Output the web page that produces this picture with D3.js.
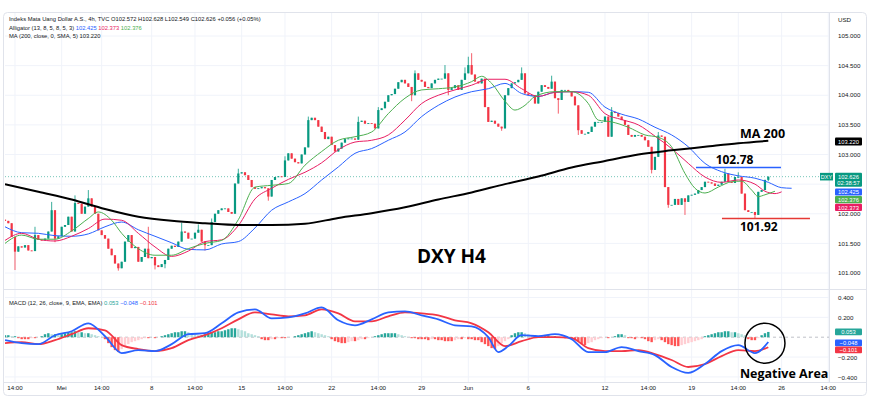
<!DOCTYPE html>
<html>
<head>
<meta charset="utf-8">
<script src="https://cdn.jsdelivr.net/npm/d3@7"></script>
<style>
  body { margin: 0; background: #fff; }
  text { font-family: "Liberation Sans", Arial, sans-serif; }
  .note { font-family: "Open Sans", "Liberation Sans", sans-serif; font-weight: 700; fill: #000; }
</style>
</head>
<body>
<div class="panel"></div>
<script>
// Data (DXY, 4h bars)

const firstOpen = 101.90;
const closes = [
  101.88,101.84,101.61,101.36,101.45,101.43,101.47,101.38,101.37,101.64,
  101.56,101.55,101.58,101.70,102.06,101.58,101.62,101.78,101.81,101.95,
  101.70,102.18,102.17,102.00,102.12,102.26,102.12,102.00,101.72,101.64,
  101.58,101.41,101.30,101.16,101.08,101.19,101.53,101.64,101.42,101.44,
  101.19,101.27,101.41,101.25,101.27,101.13,101.10,101.15,101.22,101.41,
  101.46,101.44,101.53,101.70,101.68,101.58,101.58,101.68,101.73,101.53,
  101.47,101.47,101.86,102.00,102.06,102.09,102.09,102.03,102.00,102.51,
  102.68,102.70,102.65,102.57,102.45,102.42,102.43,102.45,102.43,102.29,
  102.57,102.62,102.63,102.62,102.90,103.02,102.93,102.87,102.85,103.00,
  103.12,103.58,103.62,103.58,103.47,103.38,103.26,103.30,103.16,103.05,
  103.10,103.20,103.26,103.27,103.27,103.25,103.55,103.57,103.52,103.53,
  103.52,103.44,103.75,103.78,103.89,104.00,104.02,104.11,104.22,104.26,
  104.20,104.14,104.00,104.37,104.26,104.23,104.14,104.12,104.20,104.26,
  104.28,104.28,104.37,104.09,104.12,104.17,104.09,104.26,104.37,104.51,
  104.35,104.23,104.20,104.28,103.80,103.55,103.57,103.52,103.47,103.44,
  104.00,104.12,104.20,104.22,104.26,104.37,104.03,104.00,104.00,103.86,
  104.06,104.17,104.14,104.11,104.23,103.95,103.92,104.09,104.09,104.06,
  103.98,103.83,103.41,103.35,103.35,103.38,103.47,103.55,103.55,103.55,
  103.64,103.30,103.72,103.70,103.64,103.58,103.50,103.33,103.30,103.33,
  103.33,103.30,103.24,103.13,102.74,102.96,103.32,103.30,102.45,102.15,
  102.15,102.25,102.15,102.26,102.20,102.31,102.32,102.34,102.40,102.45,
  102.54,102.53,102.51,102.47,102.49,102.54,102.68,102.54,102.52,102.62,
  102.62,102.34,102.06,102.03,102.03,101.98,102.37,102.40,102.572,102.626
];

// notable wicks [bar, price]
const wickHighs = [[9,101.78],[14,102.20],[21,102.31],[25,102.40],[43,101.78],[53,101.85],[58,101.82],
  [62,101.92],[70,102.76],[84,102.97],[91,103.64],[106,103.64],[112,103.80],[123,104.42],[132,104.51],
  [138,104.47],[139,104.65],[140,104.71],[155,104.47],[164,104.33],[182,103.80],[196,103.38],
  [216,102.76],[220,102.70],[229,102.628]];
const wickLows = [[3,101.05],[15,101.52],[34,101.04],[45,101.06],[48,101.08],[60,101.38],[79,102.22],
  [122,103.90],[133,104.00],[149,103.40],[166,103.69],[172,103.33],[194,102.68],[199,102.10],
  [204,101.98],[225,101.92],[229,102.549]];

const ma200 = [[0,102.50],[10,102.37],[20,102.24],[30,102.08],[40,101.95],[50,101.88],[60,101.84],
  [70,101.81],[80,101.81],[90,101.83],[100,101.93],[110,102.01],[120,102.11],[130,102.24],[140,102.36],
  [150,102.50],[160,102.63],[170,102.78],[180,102.89],[190,103.00],[200,103.07],[210,103.13],
  [220,103.19],[229,103.23]];

const jaw = [[0,101.78],[5,101.68],[10,101.67],[15,101.63],[20,101.62],[25,101.66],[30,101.78],[35,101.86],
  [40,101.73],[45,101.62],[50,101.51],[55,101.40],[60,101.39],[65,101.49],[70,101.53],[75,101.76],
  [80,102.06],[85,102.20],[90,102.34],[95,102.57],[100,102.79],[105,103.02],[110,103.10],[115,103.24],
  [120,103.38],[125,103.64],[130,103.83],[135,103.97],[140,104.06],[145,104.11],[150,104.20],[155,104.03],
  [160,103.98],[165,104.05],[170,104.06],[175,104.05],[180,103.80],[185,103.68],[190,103.60],[195,103.46],
  [200,103.33],[205,103.13],[210,102.85],[215,102.71],[220,102.64],[225,102.60],[229,102.53],[233,102.44],
  [236,102.43]];

const teeth = [[0,101.55],[5,101.67],[10,101.57],[15,101.54],[20,101.62],[25,101.75],[30,101.91],[35,101.89],
  [40,101.67],[45,101.44],[50,101.28],[55,101.37],[60,101.53],[65,101.56],[70,101.80],[75,102.25],
  [80,102.43],[85,102.58],[90,102.70],[95,102.86],[100,103.08],[105,103.21],[110,103.24],[115,103.33],
  [120,103.58],[125,103.86],[130,104.00],[135,104.09],[140,104.17],[145,104.27],[150,104.27],[155,104.11],
  [160,103.98],[165,104.05],[170,104.06],[175,104.00],[180,103.69],[185,103.59],[190,103.50],[195,103.31],
  [200,103.10],[205,102.85],[210,102.62],[215,102.53],[220,102.57],[225,102.50],[228,102.38],[231,102.34],
  [233,102.37]];

const lips = [[0,101.50],[5,101.64],[10,101.57],[15,101.57],[20,101.71],[25,101.92],[28,102.03],[32,101.89],
  [35,101.67],[40,101.41],[45,101.30],[50,101.30],[55,101.41],[60,101.50],[65,101.55],[70,101.90],
  [75,102.45],[80,102.48],[85,102.51],[90,102.82],[95,103.05],[100,103.24],[105,103.30],[110,103.38],
  [115,103.69],[120,103.95],[125,104.09],[130,104.11],[135,104.14],[140,104.23],[143,104.32],[146,104.20],
  [150,103.90],[153,103.75],[156,103.83],[159,103.98],[165,104.06],[170,104.06],[175,103.86],[178,103.58],
  [182,103.55],[187,103.46],[192,103.33],[196,103.29],[200,103.13],[204,102.68],[207,102.43],[210,102.35],
  [214,102.45],[218,102.54],[221,102.55],[224,102.40],[226,102.29],[228,102.32],[231,102.38]];

const macdLine = [[0,-0.03],[5,-0.06],[10,-0.07],[15,0.02],[20,0.06],[25,0.14],[30,0.01],[35,-0.16],
  [40,-0.13],[45,-0.14],[50,-0.07],[55,0.03],[60,0.04],[65,0.14],[70,0.25],[75,0.28],[80,0.19],[85,0.20],
  [90,0.24],[95,0.30],[100,0.17],[105,0.12],[110,0.18],[115,0.25],[120,0.26],[125,0.22],[130,0.18],
  [135,0.12],[140,0.11],[145,0.00],[148,-0.15],[151,-0.09],[155,0.02],[160,0.01],[165,0.03],[170,-0.02],
  [175,-0.15],[180,-0.15],[185,-0.10],[190,-0.14],[195,-0.18],[200,-0.30],[205,-0.36],[210,-0.27],
  [215,-0.14],[220,-0.08],[225,-0.16],[229,-0.048]];

const signalLine = [[0,-0.06],[5,-0.05],[10,-0.07],[15,-0.03],[20,0.03],[25,0.09],[30,0.07],[35,-0.08],
  [40,-0.12],[45,-0.14],[50,-0.11],[55,-0.03],[60,0.02],[65,0.09],[70,0.18],[75,0.25],[80,0.23],[85,0.21],
  [90,0.22],[95,0.28],[100,0.24],[105,0.16],[110,0.16],[115,0.21],[120,0.25],[125,0.24],[130,0.22],
  [135,0.17],[140,0.14],[145,0.05],[150,-0.09],[155,-0.04],[160,0.00],[165,0.00],[170,-0.01],[175,-0.11],
  [180,-0.14],[185,-0.14],[190,-0.13],[195,-0.17],[200,-0.23],[205,-0.30],[210,-0.27],[215,-0.19],
  [220,-0.13],[225,-0.14],[229,-0.101]];

const histogram = [
  0.02,0.02,0.01,0.01,-0.01,-0.02,-0.02,-0.02,-0.01,-0.01,
  0.00,0.01,0.03,0.04,0.03,0.03,0.02,0.03,0.04,0.05,
  0.05,0.06,0.05,0.05,0.04,0.04,0.03,0.02,0.01,0.00,
  -0.02,-0.06,-0.10,-0.13,-0.15,-0.12,-0.09,-0.07,-0.05,-0.04,
  -0.03,-0.02,-0.01,-0.01,0.00,-0.01,0.00,0.01,0.02,0.03,
  0.04,0.05,0.05,0.06,0.06,0.05,0.04,0.03,0.02,0.02,
  0.03,0.04,0.05,0.05,0.06,0.06,0.07,0.08,0.09,0.09,
  0.08,0.07,0.06,0.04,0.03,0.02,0.01,-0.02,-0.03,-0.03,
  -0.02,-0.02,-0.01,-0.01,-0.01,0.00,0.00,0.01,0.02,0.03,
  0.04,0.05,0.06,0.05,0.04,0.03,0.02,0.01,-0.02,-0.04,
  -0.05,-0.06,-0.06,-0.05,-0.04,-0.04,-0.03,-0.02,-0.02,-0.01,
  0.00,0.01,0.02,0.03,0.04,0.04,0.04,0.04,0.03,0.02,
  0.01,0.00,-0.01,-0.01,-0.02,-0.02,-0.02,-0.03,-0.02,-0.02,
  -0.03,-0.03,-0.04,-0.04,-0.04,-0.03,-0.02,-0.02,-0.01,-0.02,
  -0.02,-0.03,-0.03,-0.05,-0.07,-0.09,-0.11,-0.12,-0.09,-0.06,
  -0.04,-0.02,0.02,0.04,0.05,0.05,0.04,0.03,0.02,0.02,
  0.01,0.01,0.01,0.02,0.01,0.01,0.00,0.00,-0.01,0.00,
  -0.01,-0.02,-0.04,-0.07,-0.08,-0.06,-0.05,-0.03,-0.02,-0.01,
  0.00,-0.01,0.00,0.01,0.03,0.03,0.02,-0.01,-0.01,-0.02,
  -0.01,-0.01,-0.02,-0.04,-0.05,-0.03,-0.02,-0.03,-0.05,-0.07,
  -0.08,-0.09,-0.09,-0.08,-0.07,-0.06,-0.05,-0.04,-0.03,-0.02,
  0.01,0.02,0.03,0.04,0.05,0.05,0.06,0.06,0.05,0.05,
  0.04,0.03,0.02,-0.02,-0.03,-0.03,-0.01,0.02,0.04,0.053
];

const tickBars = [3, 17, 29, 44, 57, 71, 84, 98, 112, 125, 139, 157, 180, 193, 206, 220, 233, 247];
const tickLabels = ["14:00","Mei","14:00","8","14:00","15","14:00","22","14:00","29","Jun","6","12","14:00","19","14:00","26","14:00"];
const priceTicks = [101, 101.5, 102, 102.5, 103, 103.5, 104, 104.5, 105];
const macdTicks = [-0.4, -0.2, 0.2, 0.4];

const lastClose = 102.626;
const resistance = 102.78;
const support = 101.92;

// Layout

const W = 870, H = 411;
const plot = { left: 5, right: 829 };
const pricePane = { top: 13, bottom: 289 };
const macdPane = { top: 290, bottom: 382 };

const colors = {
  up: "#089981", down: "#f23645",
  jaw: "#2962ff", teeth: "#e91e63", lips: "#4caf50",
  macd: "#2962ff", signal: "#f23645",
  grid: "#f0f3fa", axisText: "#131722"
};

const svg = d3.select(".panel").append("svg")
  .attr("width", W).attr("height", H)
  .attr("viewBox", [0, 0, W, H]);

const x = d3.scaleLinear().domain([0, 229]).range([5, 768.3]);
const yP = d3.scaleLinear().domain([101, 105]).range([273, 36]);
const yM = d3.scaleLinear().domain([-0.4, 0.4]).range([376.9, 297.5]);

const defs = svg.append("defs");
defs.append("clipPath").attr("id", "clipP").append("rect")
  .attr("x", plot.left).attr("y", pricePane.top)
  .attr("width", plot.right - plot.left).attr("height", pricePane.bottom - pricePane.top);
defs.append("clipPath").attr("id", "clipM").append("rect")
  .attr("x", plot.left).attr("y", macdPane.top)
  .attr("width", plot.right - plot.left).attr("height", macdPane.bottom - macdPane.top);

// Frame and grid

const grid = svg.append("g");
grid.selectAll("line.v").data(tickBars).join("line")
  .attr("x1", d => x(d)).attr("x2", d => x(d))
  .attr("y1", pricePane.top).attr("y2", macdPane.bottom)
  .attr("stroke", colors.grid);
grid.selectAll("line.hp").data(priceTicks).join("line")
  .attr("x1", plot.left).attr("x2", plot.right)
  .attr("y1", d => yP(d)).attr("y2", d => yP(d))
  .attr("stroke", colors.grid);
grid.selectAll("line.hm").data(macdTicks).join("line")
  .attr("x1", plot.left).attr("x2", plot.right)
  .attr("y1", d => yM(d)).attr("y2", d => yM(d))
  .attr("stroke", colors.grid);

svg.append("rect")
  .attr("x", 3.5).attr("y", 12.5).attr("width", 863).attr("height", 383).attr("rx", 4)
  .attr("fill", "none").attr("stroke", "#e0e3eb");
svg.append("line").attr("x1", plot.right + 0.5).attr("x2", plot.right + 0.5)
  .attr("y1", 12.5).attr("y2", macdPane.bottom).attr("stroke", "#e0e3eb");
svg.append("line").attr("x1", 3.5).attr("x2", 866.5)
  .attr("y1", pricePane.bottom + 0.5).attr("y2", pricePane.bottom + 0.5).attr("stroke", "#e0e3eb");
svg.append("line").attr("x1", 3.5).attr("x2", 866.5)
  .attr("y1", macdPane.bottom + 0.5).attr("y2", macdPane.bottom + 0.5).attr("stroke", "#e0e3eb");

// Price pane

const gp = svg.append("g").attr("clip-path", "url(#clipP)");

gp.append("line")
  .attr("x1", plot.left).attr("x2", plot.right)
  .attr("y1", yP(lastClose)).attr("y2", yP(lastClose))
  .attr("stroke", colors.up).attr("stroke-opacity", 0.55).attr("stroke-dasharray", "1,2");

const hiMap = new Map(wickHighs), loMap = new Map(wickLows);
const bars = closes.map((c, i) => {
  const o = i ? closes[i - 1] : firstOpen;
  return {
    i, o, c,
    h: Math.max(o, c, hiMap.get(i) ?? -Infinity),
    l: Math.min(o, c, loMap.get(i) ?? Infinity)
  };
});

const candle = gp.selectAll("g.candle").data(bars).join("g");
candle.append("line")
  .attr("x1", d => x(d.i)).attr("x2", d => x(d.i))
  .attr("y1", d => yP(d.h)).attr("y2", d => yP(d.l))
  .attr("stroke", d => d.c >= d.o ? colors.up : colors.down).attr("stroke-width", 0.8);
candle.append("rect")
  .attr("x", d => x(d.i) - 1.1).attr("width", 2.2)
  .attr("y", d => yP(Math.max(d.o, d.c)))
  .attr("height", d => Math.max(0.8, Math.abs(yP(d.o) - yP(d.c))))
  .attr("fill", d => d.c >= d.o ? colors.up : colors.down);

const lineP = d3.line().x(d => x(d[0])).y(d => yP(d[1])).curve(d3.curveMonotoneX);
[[jaw, colors.jaw], [teeth, colors.teeth], [lips, colors.lips]].forEach(([s, col]) => {
  gp.append("path").datum(s).attr("d", lineP)
    .attr("fill", "none").attr("stroke", col).attr("stroke-width", 1);
});
gp.append("path").datum(ma200).attr("d", lineP)
  .attr("fill", "none").attr("stroke", "#000").attr("stroke-width", 2);

// MACD pane

const gm = svg.append("g").attr("clip-path", "url(#clipM)");
gm.append("line")
  .attr("x1", plot.left).attr("x2", plot.right)
  .attr("y1", yM(0)).attr("y2", yM(0))
  .attr("stroke", "#9598a1").attr("stroke-opacity", 0.6).attr("stroke-dasharray", "3,3");

function histColor(v, prev) {
  if (v >= 0) return v >= prev ? "#26a69a" : "#b2dfdb";
  return v <= prev ? "#ff5252" : "#ffcdd2";
}
gm.selectAll("rect.h").data(histogram).join("rect")
  .attr("x", (d, i) => x(i) - 1.2).attr("width", 2.4)
  .attr("y", d => Math.min(yM(d), yM(0)))
  .attr("height", d => Math.abs(yM(d) - yM(0)))
  .attr("fill", (d, i) => histColor(d, i ? histogram[i - 1] : 0));

const lineM = d3.line().x(d => x(d[0])).y(d => yM(d[1])).curve(d3.curveMonotoneX);
gm.append("path").datum(signalLine).attr("d", lineM)
  .attr("fill", "none").attr("stroke", colors.signal).attr("stroke-width", 1.8);
gm.append("path").datum(macdLine).attr("d", lineM)
  .attr("fill", "none").attr("stroke", colors.macd).attr("stroke-width", 1.8);

// Axes text

const fs = 6.2;
svg.append("g").selectAll("text").data(priceTicks).join("text")
  .attr("x", 838).attr("y", d => yP(d) + 2.2)
  .attr("font-size", fs).attr("fill", colors.axisText)
  .text(d => d.toFixed(3));
svg.append("text").attr("x", 838).attr("y", 22).attr("font-size", fs)
  .attr("fill", colors.axisText).text("USD");
svg.append("g").selectAll("text").data(macdTicks).join("text")
  .attr("x", 838).attr("y", d => yM(d) + 2.6)
  .attr("font-size", fs).attr("fill", colors.axisText)
  .text(d => d3.format(".3f")(d).replace("-", "\u2212"));
svg.append("g").selectAll("text").data(tickBars).join("text")
  .attr("x", d => x(d)).attr("y", 390)
  .attr("text-anchor", "middle").attr("font-size", fs).attr("fill", colors.axisText)
  .text((d, i) => tickLabels[i]);

// Axis value tags
function tag(yc, h, lines, bg, fg) {
  const g = svg.append("g");
  g.append("rect").attr("x", 835).attr("y", yc - h / 2).attr("width", 27).attr("height", h)
    .attr("rx", 1).attr("fill", bg);
  lines.forEach((t, k) => {
    g.append("text").attr("x", 848.5).attr("y", yc - h / 2 + h / 2 + 2.1 + (lines.length > 1 ? (k - 0.5) * 6.6 : 0))
      .attr("text-anchor", "middle").attr("font-size", 5.8).attr("fill", fg).text(t);
  });
}
tag(yP(103.22), 8, ["103.220"], "#000", "#fff");
svg.append("rect").attr("x", 820).attr("y", yP(lastClose) - 3.8).attr("width", 13).attr("height", 7.6)
  .attr("fill", colors.up);
svg.append("text").attr("x", 826.5).attr("y", yP(lastClose) + 2.1).attr("text-anchor", "middle")
  .attr("font-size", 5.5).attr("fill", "#fff").text("DXY");
tag(yP(lastClose) + 3.1, 14, ["102.626", "02:38:57"], colors.up, "#fff");
tag(192, 7.2, ["102.425"], colors.jaw, "#fff");
tag(199.6, 7.2, ["102.376"], colors.lips, "#fff");
tag(207.4, 7.2, ["102.373"], colors.teeth, "#fff");
tag(yM(0.053), 6.8, ["0.053"], "#26a69a", "#fff");
tag(yM(-0.048) + 1.0, 6.8, ["\u22120.048"], colors.macd, "#fff");
tag(349.8, 6.8, ["\u22120.101"], "#f23645", "#fff");

// Legends
function legend(y, parts) {
  const t = svg.append("text").attr("x", 9).attr("y", y).attr("font-size", 5.8).attr("fill", "#131722");
  parts.forEach(([s, c]) => t.append("tspan").attr("fill", c).text(s));
}
legend(21, [["Indeks Mata Uang Dollar A.S., 4h, TVC  O102.572  H102.628  L102.549  C102.626  +0.056 (+0.05%)", "#131722"]]);
legend(29.5, [["Alligator (13, 8, 5, 8, 5, 3)  ", "#131722"], ["102.425  ", colors.jaw], ["102.373  ", colors.teeth], ["102.376", colors.lips]]);
legend(37.5, [["MA (200, close, 0, SMA, 5)  103.220", "#131722"]]);
legend(305, [["MACD (12, 26, close, 9, EMA, EMA)  ", "#131722"], ["0.053  ", "#26a69a"], ["\u22120.048  ", colors.macd], ["\u22120.101", colors.signal]]);

// Annotations

svg.append("text").attr("class", "note").attr("x", x(123.6)).attr("y", yP(101.17))
  .attr("font-size", 19).text("DXY H4");
svg.append("text").attr("class", "note").attr("x", x(220.5)).attr("y", yP(103.28))
  .attr("font-size", 12.5).text("MA 200");

svg.append("line").attr("x1", x(207.3)).attr("x2", x(232.8))
  .attr("y1", yP(resistance)).attr("y2", yP(resistance))
  .attr("stroke", "#2962ff").attr("stroke-width", 1.6);
svg.append("text").attr("class", "note").attr("x", x(213.2)).attr("y", yP(102.84))
  .attr("font-size", 12).text("102.78");

svg.append("line").attr("x1", x(215.1)).attr("x2", x(241.5))
  .attr("y1", yP(support)).attr("y2", yP(support))
  .attr("stroke", "#e53935").attr("stroke-width", 1.6);
svg.append("text").attr("class", "note").attr("x", x(220.5)).attr("y", yP(101.71))
  .attr("font-size", 12).text("101.92");

svg.append("circle").attr("cx", x(228)).attr("cy", yM(-0.06)).attr("r", 20)
  .attr("fill", "none").attr("stroke", "#000").attr("stroke-width", 1.5);
svg.append("text").attr("class", "note").attr("x", x(220.5)).attr("y", yM(-0.413))
  .attr("font-size", 12.5).text("Negative Area");
</script>
</body>
</html>
